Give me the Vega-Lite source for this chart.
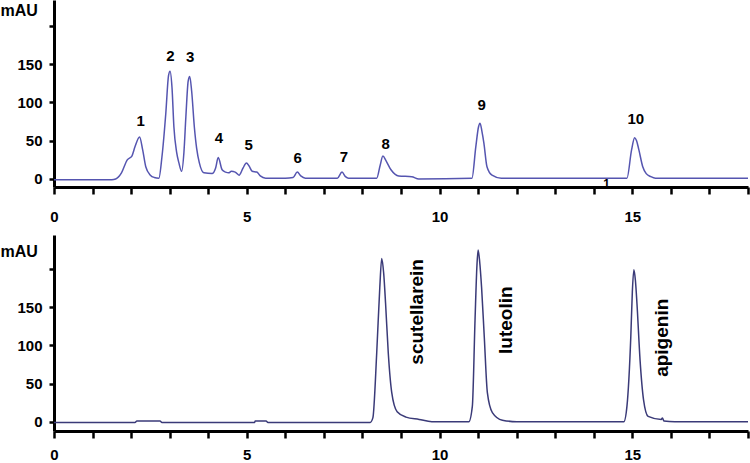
{
  "$schema": "https://vega.github.io/schema/vega-lite/v6.json",
  "padding": 0,
  "background": "white",
  "bounds": "flush",
  "spacing": 48,
  "config": {
    "view": {"stroke": null},
    "axis": {
      "grid": false,
      "domainColor": "black",
      "domainWidth": 3,
      "tickColor": "black",
      "tickWidth": 2.5,
      "labelColor": "black",
      "labelFont": "Liberation Sans",
      "labelFontWeight": "bold",
      "labelFontSize": 15,
      "labelFlush": false,
      "labelOverlap": false,
      "titleColor": "black",
      "titleFont": "Liberation Sans",
      "titleFontWeight": "bold",
      "titleFontSize": 16
    }
  },
  "datasets": {
    "top": [
      {"t": 0, "v": -1}, {"t": 1.5, "v": -1}, {"t": 1.6, "v": 0}, {"t": 1.75, "v": 8}, {"t": 1.9, "v": 25},
      {"t": 2.02, "v": 30}, {"t": 2.1, "v": 42}, {"t": 2.22, "v": 55}, {"t": 2.3, "v": 38}, {"t": 2.38, "v": 16},
      {"t": 2.5, "v": 5}, {"t": 2.6, "v": 2}, {"t": 2.72, "v": 1}, {"t": 2.8, "v": 29}, {"t": 2.9, "v": 86},
      {"t": 2.97, "v": 135}, {"t": 3.01, "v": 141}, {"t": 3.06, "v": 120}, {"t": 3.11, "v": 68}, {"t": 3.18, "v": 35},
      {"t": 3.24, "v": 21}, {"t": 3.31, "v": 10}, {"t": 3.37, "v": 35}, {"t": 3.42, "v": 81}, {"t": 3.48, "v": 128},
      {"t": 3.52, "v": 134}, {"t": 3.57, "v": 115}, {"t": 3.64, "v": 68}, {"t": 3.7, "v": 40}, {"t": 3.77, "v": 21},
      {"t": 3.89, "v": 8}, {"t": 4.1, "v": 7}, {"t": 4.19, "v": 14}, {"t": 4.26, "v": 28}, {"t": 4.36, "v": 12},
      {"t": 4.45, "v": 9}, {"t": 4.53, "v": 8}, {"t": 4.6, "v": 10}, {"t": 4.7, "v": 9}, {"t": 4.8, "v": 5},
      {"t": 4.9, "v": 14}, {"t": 4.99, "v": 21}, {"t": 5.06, "v": 17}, {"t": 5.14, "v": 10}, {"t": 5.26, "v": 9},
      {"t": 5.35, "v": 4}, {"t": 5.49, "v": 1}, {"t": 6.0, "v": 1}, {"t": 6.2, "v": 2}, {"t": 6.31, "v": 9},
      {"t": 6.4, "v": 4}, {"t": 6.52, "v": 1}, {"t": 7.35, "v": 1}, {"t": 7.47, "v": 9}, {"t": 7.56, "v": 3},
      {"t": 7.64, "v": 1}, {"t": 8.37, "v": 1}, {"t": 8.46, "v": 18}, {"t": 8.53, "v": 30}, {"t": 8.61, "v": 24},
      {"t": 8.74, "v": 12}, {"t": 8.85, "v": 6}, {"t": 8.94, "v": 4}, {"t": 9.28, "v": 3}, {"t": 9.46, "v": 0},
      {"t": 10.84, "v": 1}, {"t": 10.94, "v": 42}, {"t": 11.01, "v": 68}, {"t": 11.05, "v": 73}, {"t": 11.1, "v": 62},
      {"t": 11.15, "v": 47}, {"t": 11.23, "v": 16}, {"t": 11.36, "v": 5}, {"t": 11.6, "v": 1}, {"t": 14.86, "v": 1},
      {"t": 14.98, "v": 38}, {"t": 15.06, "v": 54}, {"t": 15.11, "v": 50}, {"t": 15.17, "v": 38}, {"t": 15.27, "v": 16},
      {"t": 15.36, "v": 7}, {"t": 15.48, "v": 3}, {"t": 15.6, "v": 1}, {"t": 18, "v": 1}
    ],
    "topLabels": [
      {"t": 2.25, "v": 76, "label": "1"}, {"t": 3.02, "v": 161, "label": "2"}, {"t": 3.53, "v": 159, "label": "3"},
      {"t": 4.28, "v": 54, "label": "4"}, {"t": 5.05, "v": 44, "label": "5"}, {"t": 6.32, "v": 28, "label": "6"},
      {"t": 7.52, "v": 29, "label": "7"}, {"t": 8.6, "v": 46, "label": "8"}, {"t": 11.09, "v": 97, "label": "9"},
      {"t": 15.09, "v": 78, "label": "10"}
    ],
    "topArtifact": [
      {"t": 14.33, "v": -6, "label": "1"}
    ],
    "bottom": [
      {"t": 0, "v": -1}, {"t": 2.1, "v": -1}, {"t": 2.15, "v": 1}, {"t": 2.75, "v": 1}, {"t": 2.8, "v": -1},
      {"t": 5.2, "v": -1}, {"t": 5.22, "v": 1}, {"t": 5.5, "v": 1}, {"t": 5.55, "v": -1}, {"t": 8.2, "v": -1},
      {"t": 8.27, "v": 5}, {"t": 8.37, "v": 90}, {"t": 8.45, "v": 176}, {"t": 8.5, "v": 214}, {"t": 8.55, "v": 195},
      {"t": 8.6, "v": 155}, {"t": 8.67, "v": 90}, {"t": 8.76, "v": 38}, {"t": 8.9, "v": 13}, {"t": 9.13, "v": 6},
      {"t": 9.47, "v": 3}, {"t": 9.8, "v": 0}, {"t": 10.76, "v": 0}, {"t": 10.85, "v": 20}, {"t": 10.92, "v": 133},
      {"t": 10.97, "v": 205}, {"t": 11.0, "v": 225}, {"t": 11.04, "v": 210}, {"t": 11.09, "v": 176}, {"t": 11.16, "v": 111},
      {"t": 11.24, "v": 38}, {"t": 11.37, "v": 12}, {"t": 11.63, "v": 2}, {"t": 12.0, "v": 0}, {"t": 14.78, "v": 0},
      {"t": 14.86, "v": 20}, {"t": 14.96, "v": 111}, {"t": 15.0, "v": 170}, {"t": 15.04, "v": 199}, {"t": 15.08, "v": 185},
      {"t": 15.12, "v": 155}, {"t": 15.2, "v": 81}, {"t": 15.29, "v": 29}, {"t": 15.41, "v": 7}, {"t": 15.75, "v": 3},
      {"t": 15.78, "v": 5}, {"t": 15.82, "v": 1}, {"t": 16.1, "v": 0}, {"t": 18, "v": 0}
    ],
    "bottomLabels": [
      {"t": 9.41, "v": 144, "label": "scutellarein"},
      {"t": 11.73, "v": 133, "label": "luteolin"},
      {"t": 15.77, "v": 110, "label": "apigenin"}
    ]
  },
  "vconcat": [
    {
      "width": 694,
      "height": 187,
      "encoding": {
        "x": {
          "field": "t", "type": "quantitative",
          "scale": {"domain": [0, 18], "nice": false, "zero": false},
          "axis": {"values": [0,1,2,3,4,5,6,7,8,9,10,11,12,13,14,15,16,17,18], "labelExpr": "datum.value % 5 == 0 ? datum.label : ''", "title": null, "tickSize": 7, "labelPadding": 15}
        },
        "y": {
          "field": "v", "type": "quantitative",
          "scale": {"domain": [-10.5, 234], "nice": false, "zero": false},
          "axis": {"values": [0, 50, 100, 150, 200], "labelExpr": "datum.value == 200 ? '' : datum.label", "title": "mAU", "titleAngle": 0, "titleAlign": "left", "titleBaseline": "middle", "titleX": -54, "titleY": 10, "tickSize": 5, "labelPadding": 7}
        }
      },
      "layer": [
        {"data": {"name": "top"}, "mark": {"type": "line", "color": "#5555b0", "strokeWidth": 1.5, "interpolate": "monotone"}},
        {"data": {"name": "topLabels"}, "mark": {"type": "text", "font": "Liberation Sans", "fontWeight": "bold", "fontSize": 15, "color": "black", "align": "center", "baseline": "middle"}, "encoding": {"text": {"field": "label"}}},
        {"data": {"name": "topArtifact"}, "mark": {"type": "text", "font": "Liberation Sans", "fontWeight": "bold", "fontSize": 12, "color": "black", "align": "center", "baseline": "middle"}, "encoding": {"text": {"field": "label"}}}
      ]
    },
    {
      "width": 694,
      "height": 196,
      "encoding": {
        "x": {
          "field": "t", "type": "quantitative",
          "scale": {"domain": [0, 18], "nice": false, "zero": false},
          "axis": {"values": [0,1,2,3,4,5,6,7,8,9,10,11,12,13,14,15,16,17,18], "labelExpr": "datum.value % 5 == 0 ? datum.label : ''", "title": null, "tickSize": 7, "labelPadding": 9}
        },
        "y": {
          "field": "v", "type": "quantitative",
          "scale": {"domain": [-12.2, 244.7], "nice": false, "zero": false},
          "axis": {"values": [0, 50, 100, 150, 200], "labelExpr": "datum.value == 200 ? '' : datum.label", "title": "mAU", "titleAngle": 0, "titleAlign": "left", "titleBaseline": "middle", "titleX": -54, "titleY": 16, "tickSize": 5, "labelPadding": 7}
        }
      },
      "layer": [
        {"data": {"name": "bottom"}, "mark": {"type": "line", "color": "#3a3a78", "strokeWidth": 1.5, "interpolate": "monotone"}},
        {"data": {"name": "bottomLabels"}, "mark": {"type": "text", "font": "Liberation Sans", "fontWeight": "bold", "fontSize": 19, "color": "black", "align": "center", "baseline": "middle", "angle": 270}, "encoding": {"text": {"field": "label"}}}
      ]
    }
  ]
}
